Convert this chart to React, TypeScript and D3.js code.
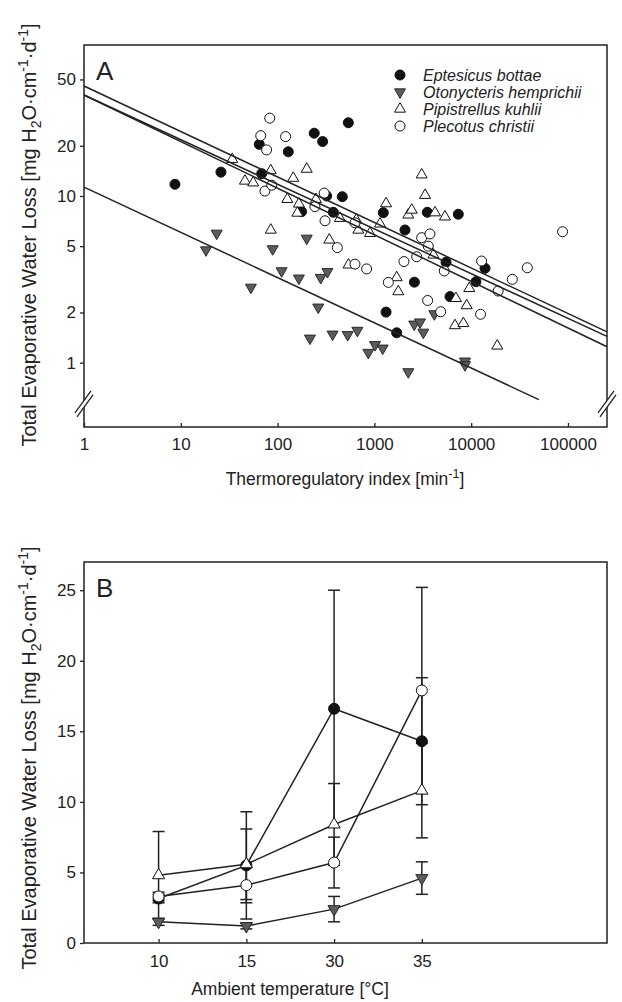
import * as d3 from "d3";
import { useRef, useEffect } from "react";

const FONT = "'Liberation Sans', Arial, Helvetica, sans-serif";
const INK = "#222";

// panel A: thermoregulatory index (min^-1) and TEWL per species
const eptesicusTI = [8.7, 26, 64.7, 68.5, 129, 239, 292, 538, 177, 321, 466, 376, 1236, 2070, 3520, 7360, 5500, 13900, 11200, 6040, 2590, 1320, 1700];
const eptesicusEWL = [11.75, 13.9, 20.4, 13.6, 18.4, 23.8, 21.2, 27.5, 8.05, 10.0, 9.9, 7.98, 7.94, 6.25, 7.98, 7.77, 4.0, 3.68, 3.06, 2.49, 3.04, 2.01, 1.51];

const otonycterisTI = [18.2, 23.5, 53, 89, 110, 166, 200, 216, 263, 279, 327, 370, 530, 667, 866, 1015, 1218, 2240, 2580, 2960, 3200, 4160, 8630, 8630];
const otonycterisEWL = [4.74, 5.97, 2.83, 4.81, 3.55, 3.21, 5.57, 1.4, 2.15, 3.24, 3.51, 1.48, 1.47, 1.56, 1.15, 1.28, 1.22, 0.88, 1.7, 1.75, 1.52, 1.96, 1.02, 0.97];

const pipistrellusTI = [34, 46, 56, 85, 85, 126, 145, 166, 160, 200, 249, 342, 441, 650, 682, 900, 1143, 1320, 2240, 2430, 3080, 3340, 4230, 5360, 4070, 540, 1700, 1766, 6960, 9560, 8980, 6800, 8300, 18600];
const pipistrellusEWL = [16.6, 12.3, 12.0, 14.2, 6.25, 9.55, 12.8, 8.96, 7.9, 14.5, 9.55, 5.45, 7.35, 7.18, 6.25, 5.97, 6.8, 9.0, 7.7, 8.24, 13.4, 10.1, 7.94, 7.5, 4.43, 3.86, 3.24, 2.67, 2.43, 2.79, 2.2, 1.67, 1.72, 1.26];

const plecotusTI = [83, 67, 121, 77, 74, 87, 243, 303, 309, 630, 414, 630, 831, 2020, 1393, 2735, 3080, 3750, 3600, 5270, 3550, 4840, 12800, 19000, 12500, 26600, 38000, 88000];
const plecotusEWL = [29.3, 23.0, 22.7, 18.9, 10.7, 11.6, 8.63, 10.4, 7.1, 6.9, 4.9, 3.9, 3.65, 4.04, 3.03, 4.32, 5.62, 5.92, 5.0, 3.55, 2.36, 2.02, 4.07, 2.69, 1.95, 3.16, 3.71, 6.1];

// log-log regressions: log10(EWL) = a + b * log10(TI)
const fitIntercept = [1.66, 1.606, 1.606, 1.053];
const fitSlope = [-0.273, -0.268, -0.2796, -0.2713];
const fitMaxTI = [253000, 253000, 253000, 50000];

const tiTicks = [1, 10, 100, 1000, 10000, 100000];
const ewlLogTicks = [1, 2, 5, 10, 20, 50];
const axisBreak = 0.565;

// panel B: mean ± SD at each ambient temperature
const temps = ["10", "15", "30", "35"];
const eptesicusMean = [3.15, 5.5, 16.6, 14.3];
const eptesicusSD = [0.3, 3.8, 8.4, 4.5];
const otonycterisMean = [1.5, 1.2, 2.4, 4.6];
const otonycterisSD = [0.25, 0.2, 0.9, 1.15];
const pipistrellusMean = [4.8, 5.58, 8.4, 10.8];
const pipistrellusSD = [3.1, 2.5, 2.9, 3.35];
const plecotusMean = [3.3, 4.1, 5.7, 17.9];
const plecotusSD = [0.3, 1.25, 1.8, 7.3];
const ewlTicks = [0, 5, 10, 15, 20, 25];

const speciesNames = ["Eptesicus bottae", "Otonycteris hemprichii", "Pipistrellus kuhlii", "Plecotus christii"];
const speciesShape = ["circle", "down", "up", "circle"];
const speciesFill = ["#111", "#5c5c5c", "#fff", "#fff"];

function Marker({ shape, fill, x, y, r = 5 }) {
  const stroke = fill === "#5c5c5c" ? "#2a2a2a" : "#111";
  if (shape === "circle")
    return <circle cx={x} cy={y} r={r} fill={fill} stroke={stroke} strokeWidth={1} />;
  const w = r * 1.1, h = r * 1.9;
  const d = shape === "up"
    ? `M0,${-h * 2 / 3}L${w},${h / 3}L${-w},${h / 3}Z`
    : `M0,${h * 2 / 3}L${w},${-h / 3}L${-w},${-h / 3}Z`;
  return <path transform={`translate(${x},${y})`} d={d} fill={fill} stroke={stroke} strokeWidth={1} />;
}

function YTitle({ x, y }) {
  return (
    <text transform={`translate(${x},${y}) rotate(-90)`} textAnchor="middle" fontFamily={FONT} fontSize={20} fill={INK}>
      Total Evaporative Water Loss [mg H<tspan fontSize={14} dy={5}>2</tspan>
      <tspan dy={-5}>O·cm</tspan><tspan fontSize={14} dy={-8}>-1</tspan>
      <tspan dy={8}>·d</tspan><tspan fontSize={14} dy={-8}>-1</tspan><tspan dy={8}>]</tspan>
    </text>
  );
}

export default function App() {
  const A = { left: 84, right: 607, top: 45, bottom: 427 };
  const B = { left: 84, right: 607, top: 562, bottom: 943 };

  const xA = d3.scaleLog().domain([1, 253000]).range([A.left, A.right]);
  const yA = d3.scaleLog().domain([0.411, 80.5]).range([A.bottom, A.top]);
  const xB = d3.scaleLinear().domain([-0.85, 5.11]).range([B.left, B.right]);
  const yB = d3.scaleLinear().domain([0, 27]).range([B.bottom, B.top]);

  const gxA = useRef(null);
  const gyA = useRef(null);
  const gxB = useRef(null);
  const gyB = useRef(null);

  useEffect(() => {
    const tidy = (g) => {
      g.attr("font-family", null).attr("font-size", null);
      g.select(".domain").remove();
      g.selectAll("line").attr("stroke", INK).attr("stroke-width", 1.3);
      g.selectAll("text").attr("font-family", FONT).attr("font-size", 17).attr("fill", INK);
    };
    d3.select(gxA.current)
      .call(d3.axisBottom(xA).tickValues(tiTicks).tickFormat(d3.format("d")).tickSize(-4).tickPadding(11))
      .call(tidy);
    d3.select(gyA.current)
      .call(d3.axisLeft(yA).tickValues(ewlLogTicks).tickFormat(d3.format("d")).tickSize(4).tickPadding(4))
      .call(tidy);
    d3.select(gxB.current)
      .call(d3.axisBottom(xB).tickValues(temps.map((_, i) => i)).tickFormat((i) => temps[i]).tickSize(-4).tickPadding(12))
      .call(tidy);
    d3.select(gyB.current)
      .call(d3.axisLeft(yB).tickValues(ewlTicks).tickSize(4).tickPadding(4))
      .call(tidy);
  }, []);

  const scatter = [
    [eptesicusTI, eptesicusEWL],
    [otonycterisTI, otonycterisEWL],
    [pipistrellusTI, pipistrellusEWL],
    [plecotusTI, plecotusEWL],
  ];
  const means = [eptesicusMean, otonycterisMean, pipistrellusMean, plecotusMean];
  const sds = [eptesicusSD, otonycterisSD, pipistrellusSD, plecotusSD];

  const fitLine = d3.line().x((d) => xA(d[0])).y((d) => yA(d[1]));
  const meanLine = d3.line().x((d, i) => xB(i)).y((d) => yB(d));

  const yBreak = yA(axisBreak);
  const breakAt = (x) => (
    <g key={x}>
      <path d={`M${x - 9},${yBreak + 9}L${x + 7},${yBreak - 13}L${x + 9},${yBreak - 9}L${x - 7},${yBreak + 13}Z`} fill="#fff" />
      <line x1={x - 9} y1={yBreak + 9} x2={x + 7} y2={yBreak - 13} stroke={INK} strokeWidth={1.3} />
      <line x1={x - 7} y1={yBreak + 13} x2={x + 9} y2={yBreak - 9} stroke={INK} strokeWidth={1.3} />
    </g>
  );

  return (
    <svg width={622} height={1002} style={{ position: "absolute", left: 0, top: 0, background: "#fff" }}>
      {/* ---- panel A ---- */}
      <rect x={A.left} y={A.top} width={A.right - A.left} height={A.bottom - A.top} fill="none" stroke={INK} strokeWidth={1.5} />
      <g ref={gxA} transform={`translate(0,${A.bottom})`} />
      <g ref={gyA} transform={`translate(${A.left},0)`} />
      {breakAt(A.left)}
      {breakAt(A.right)}
      <text x={96} y={80} fontFamily={FONT} fontSize={26} fill={INK}>A</text>

      <g>
        {scatter.map(([tx, ty], s) =>
          tx.map((v, i) => (
            <Marker key={`${s}-${i}`} shape={speciesShape[s]} fill={speciesFill[s]} x={xA(v)} y={yA(ty[i])} />
          ))
        )}
      </g>
      <g fill="none" stroke={INK} strokeWidth={1.5}>
        {fitIntercept.map((a, k) => {
          const ends = [1, fitMaxTI[k]].map((t) => [t, Math.pow(10, a + fitSlope[k] * Math.log10(t))]);
          return <path key={k} d={fitLine(ends)} />;
        })}
      </g>

      <g>
        {speciesNames.map((name, s) => (
          <g key={name} transform={`translate(400,${75 + s * 17})`}>
            <Marker shape={speciesShape[s]} fill={speciesFill[s]} x={0} y={0} />
            <text x={23} dy="0.35em" fontFamily={FONT} fontSize={16} fontStyle="italic" fill={INK}>{name}</text>
          </g>
        ))}
      </g>

      <YTitle x={36} y={235} />
      <text x={345} y={485} textAnchor="middle" fontFamily={FONT} fontSize={17.5} fill={INK}>
        Thermoregulatory index [min<tspan fontSize={12.5} dy={-7}>-1</tspan><tspan dy={7}>]</tspan>
      </text>

      {/* ---- panel B ---- */}
      <rect x={B.left} y={B.top} width={B.right - B.left} height={B.bottom - B.top} fill="none" stroke={INK} strokeWidth={1.5} />
      <g ref={gxB} transform={`translate(0,${B.bottom})`} />
      <g ref={gyB} transform={`translate(${B.left},0)`} />
      <text x={96} y={597} fontFamily={FONT} fontSize={26} fill={INK}>B</text>

      <g fill="none" stroke={INK} strokeWidth={1.5}>
        {means.map((m, s) => <path key={s} d={meanLine(m)} />)}
      </g>
      <g stroke={INK} strokeWidth={1.5}>
        {means.map((m, s) =>
          m.map((v, i) => {
            const lo = yB(v - sds[s][i]), hi = yB(v + sds[s][i]), cx = xB(i);
            return (
              <g key={`${s}-${i}`}>
                <line x1={cx} x2={cx} y1={lo} y2={hi} />
                <line x1={cx - 6} x2={cx + 6} y1={lo} y2={lo} />
                <line x1={cx - 6} x2={cx + 6} y1={hi} y2={hi} />
              </g>
            );
          })
        )}
      </g>
      <g>
        {means.map((m, s) =>
          m.map((v, i) => (
            <Marker key={`${s}-${i}`} shape={speciesShape[s]} fill={speciesFill[s]} x={xB(i)} y={yB(v)} r={5.5} />
          ))
        )}
      </g>

      <YTitle x={36} y={758} />
      <text x={290} y={995} textAnchor="middle" fontFamily={FONT} fontSize={17.5} fill={INK}>Ambient temperature [°C]</text>
    </svg>
  );
}
